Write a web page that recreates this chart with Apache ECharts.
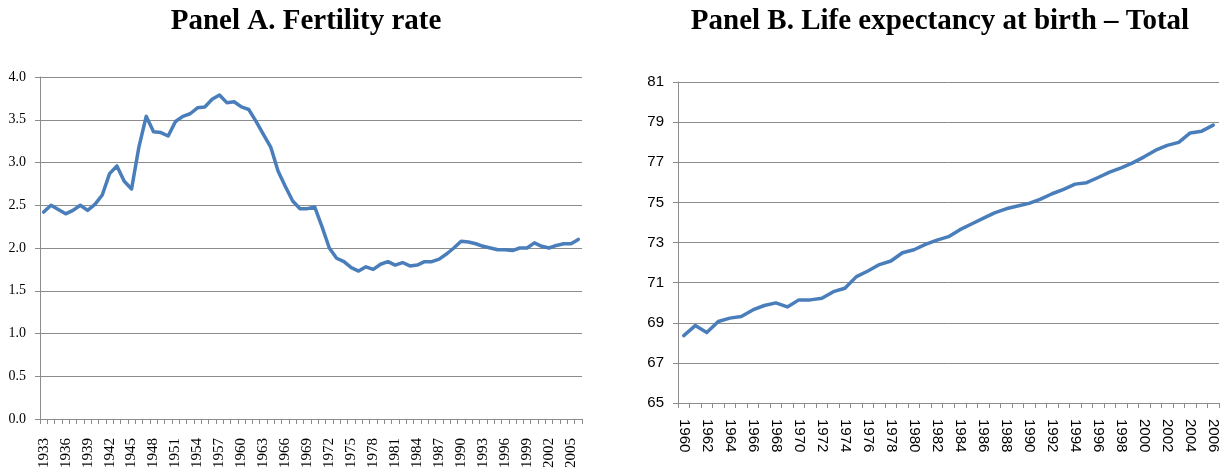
<!DOCTYPE html>
<html><head><meta charset="utf-8">
<script src="https://cdn.jsdelivr.net/npm/echarts@6/dist/echarts.min.js"></script>
<style>html,body{margin:0;padding:0;background:#fff}#c{width:1222px;height:475px}</style>
</head><body><div id="c"></div>
<script>
const fertYears = [];
for (let y = 1933; y <= 2006; y++) fertYears.push(String(y));
const fertility = [
 2.42,2.50,2.45,2.40,2.44,2.50,2.44,2.51,2.62,2.87,
 2.96,2.78,2.69,3.18,3.54,3.36,3.35,3.31,3.48,3.54,
 3.57,3.64,3.65,3.74,3.79,3.70,3.71,3.65,3.62,3.48,
 3.33,3.18,2.90,2.72,2.55,2.46,2.46,2.48,2.25,2.00,
 1.88,1.84,1.77,1.73,1.78,1.75,1.81,1.84,1.80,1.83,
 1.79,1.80,1.84,1.84,1.87,1.93,2.00,2.08,2.07,2.05,
 2.02,2.00,1.98,1.98,1.97,2.00,2.00,2.06,2.02,2.00,
 2.03,2.05,2.05,2.10
];
const lifeYears = [];
for (let y = 1960; y <= 2006; y++) lifeYears.push(String(y));
const lifeExp = [
 68.36,68.86,68.51,69.06,69.23,69.31,69.64,69.86,69.99,69.79,
 70.14,70.14,70.22,70.55,70.72,71.30,71.58,71.90,72.08,72.49,
 72.64,72.91,73.12,73.29,73.64,73.92,74.20,74.48,74.68,74.82,
 74.95,75.16,75.43,75.65,75.91,75.98,76.24,76.51,76.72,76.97,
 77.27,77.60,77.84,77.99,78.46,78.55,78.85
];
const titleA = 'Panel A. Fertility rate';
const titleB = 'Panel B. Life expectancy at birth \u2013 Total';

const chart = echarts.init(document.getElementById('c'), null, {renderer: 'canvas'});
const gridLine = {show: true, lineStyle: {color: '#8c8c8c', width: 1}};
const axLine = {show: true, lineStyle: {color: '#8c8c8c', width: 1}};
const lineColor = '#4a7ebb';
chart.setOption({
  animation: false,
  title: [
    {text: titleA, left: 301, top: 2, textAlign: 'center',
     textStyle: {fontFamily: 'Liberation Serif', fontWeight: 'bold', fontSize: 29, color: '#000'}},
    {text: titleB, left: 935, top: 2, textAlign: 'center',
     textStyle: {fontFamily: 'Liberation Serif', fontWeight: 'bold', fontSize: 29, color: '#000'}}
  ],
  grid: [
    {left: 40, right: 640, top: 77, bottom: 56, containLabel: false},
    {left: 678, right: 3, top: 82, bottom: 72, containLabel: false}
  ],
  xAxis: [
    {type: 'category', gridIndex: 0, data: fertYears, boundaryGap: true,
     axisLine: axLine, axisTick: {show: true, interval: 0, length: 5, lineStyle: {color: '#8c8c8c'}},
     axisLabel: {interval: 2, rotate: 90, margin: 19, fontFamily: 'Liberation Serif', fontSize: 15, color: '#000'},
     splitLine: {show: false}},
    {type: 'category', gridIndex: 1, data: lifeYears, boundaryGap: true,
     axisLine: axLine, axisTick: {show: true, interval: 0, length: 5, lineStyle: {color: '#8c8c8c'}},
     axisLabel: {interval: 1, rotate: -90, margin: 16, fontFamily: 'Liberation Sans', fontSize: 15, color: '#000'},
     splitLine: {show: false}}
  ],
  yAxis: [
    {type: 'value', gridIndex: 0, min: 0, max: 4, interval: 0.5,
     axisLine: axLine, axisTick: {show: true, length: 5, lineStyle: {color: '#8c8c8c'}},
     axisLabel: {formatter: v => v.toFixed(1), margin: 14, fontFamily: 'Liberation Serif', fontSize: 14, color: '#000'},
     splitLine: gridLine},
    {type: 'value', gridIndex: 1, min: 65, max: 81, interval: 2,
     axisLine: axLine, axisTick: {show: true, length: 5, lineStyle: {color: '#8c8c8c'}},
     axisLabel: {margin: 14, fontFamily: 'Liberation Sans', fontSize: 15, color: '#000'},
     splitLine: gridLine}
  ],
  series: [
    {type: 'line', xAxisIndex: 0, yAxisIndex: 0, data: fertility, showSymbol: false,
     lineStyle: {color: lineColor, width: 3.5, cap: 'round', join: 'round'}},
    {type: 'line', xAxisIndex: 1, yAxisIndex: 1, data: lifeExp, showSymbol: false,
     lineStyle: {color: lineColor, width: 3.5, cap: 'round', join: 'round'}}
  ]
});
</script></body></html>
